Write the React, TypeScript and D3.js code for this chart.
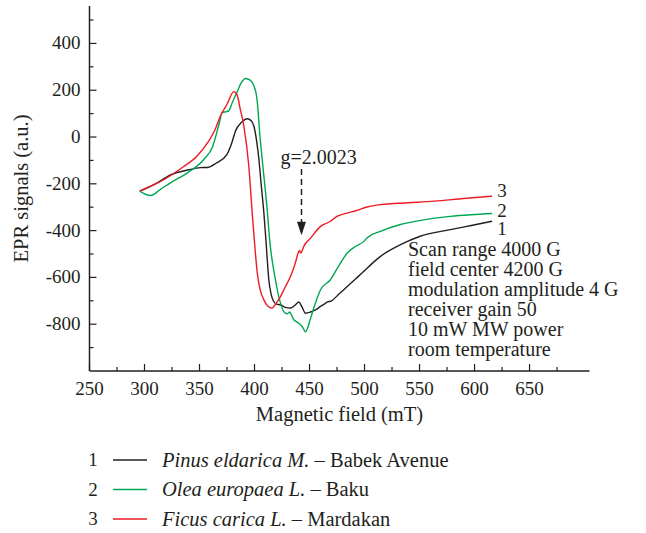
import React from "react";
import * as d3 from "d3";

const W = 646;
const H = 533;

const xTicks = [250, 300, 350, 400, 450, 500, 550, 600, 650];
const yTicks = [-800, -600, -400, -200, 0, 200, 400];
const xMinor = [275, 325, 375, 425, 475, 525, 575, 625, 675];
const yMinor = [-900, -700, -500, -300, -100, 100, 300, 500];

const seriesNames = ["1", "2", "3"];
const seriesColors = ["#231f20", "#00a651", "#ed1c24"];
const legendSpecies = ["Pinus eldarica M.", "Olea europaea L.", "Ficus carica L."];
const legendPlaces = ["Babek Avenue", "Baku", "Mardakan"];

const pinus: [number, number][] = [
  [295.7, -231], [310, -200], [323.6, -162], [340, -140], [351, -131], [357, -130],
  [365, -112], [375, -74], [379, -30], [382.7, 26], [388, 62], [393.4, 78], [397, 70],
  [399.4, 47], [402, -20], [404, -96], [406, -200], [408.5, -324], [410.5, -450],
  [413, -610], [415, -670], [417.5, -703], [420, -714], [423.6, -717], [428, -728],
  [432.7, -731], [437, -718], [440.3, -705], [443, -725], [446.4, -753], [451, -748],
  [455.5, -739], [460, -724], [464, -712], [466, -706], [470, -700], [477, -670],
  [484.3, -639], [492, -606], [499.4, -574], [507, -540], [514.5, -510], [532.7, -460],
  [550, -425], [578, -396], [597, -378], [616, -360],
];

const olea: [number, number][] = [
  [295.7, -231], [305.5, -250], [315, -222], [323.6, -196], [340, -150], [353.9, -96],
  [362, -40], [368, 60], [370.6, 104], [374, 108], [376.6, 112], [380, 150], [384, 190],
  [388, 232], [391.8, 250], [396, 243], [399.4, 219], [401.5, 185], [402.5, 150],
  [405, 0], [407, -96], [411.5, -310], [414, -450], [419, -610], [423.6, -710],
  [428, -753], [430, -755], [432, -748], [433.5, -760], [435.7, -781], [440, -795],
  [443.3, -810], [446.4, -832], [451, -774], [455, -715], [460, -653], [469, -610],
  [476, -555], [484.3, -496], [491, -470], [499.4, -446], [502.4, -430], [514.5, -403],
  [532.7, -374], [555, -353], [578, -339], [597, -332], [616, -327],
];

const ficus: [number, number][] = [
  [295.7, -231], [308, -205], [320.6, -174], [335, -128], [347.9, -81], [358, -20],
  [364, 30], [369, 90], [375, 140], [381.2, 194], [384.3, 178], [387, 120], [390.3, 47],
  [394.8, -124], [397.9, -324], [400, -450], [402.5, -581], [405, -650], [408.5, -696],
  [412, -722], [416, -731], [419, -715], [423.6, -682], [428, -640], [432.7, -596],
  [437, -540], [440, -492], [441, -485], [442, -496], [445, -465], [451, -432],
  [460, -382], [469, -360], [475, -339], [484.3, -325], [492, -315], [502.4, -299],
  [514.5, -289], [540, -281], [563, -274], [590, -263], [616, -253],
];

const seriesData = [pinus, olea, ficus];
const labelOffsets = [10, -1, -3];

const infoLines = [
  "Scan range 4000 G",
  "field center 4200 G",
  "modulation amplitude 4 G",
  "receiver gain 50",
  "10 mW MW power",
  "room temperature",
];

const gLabel = "g=2.0023";
const gField = 442.7;

const FONT = '"Liberation Serif", "DejaVu Serif", serif';

export default function App() {
  const x = d3.scaleLinear().domain([250, 704.5]).range([89.5, 589.5]);
  const y = d3.scaleLinear().domain([-1000, 560]).range([371, 6]);
  const line = d3
    .line<[number, number]>()
    .x((d) => x(d[0]))
    .y((d) => y(d[1]))
    .curve(d3.curveMonotoneX);

  const txt = "#231f20";
  const x0 = x(250);
  const y0 = y(-1000);
  const ts = { fontFamily: FONT };

  return (
    <svg
      width={W}
      height={H}
      style={{ position: "absolute", left: 0, top: 0, background: "#fff", fontFamily: FONT }}
    >
      {/* axes */}
      <line x1={x0} x2={x0} y1={y(560)} y2={y0} stroke={txt} strokeWidth={1.5} />
      <line x1={x0} x2={x(704.5)} y1={y0} y2={y0} stroke={txt} strokeWidth={1.5} />
      {xTicks.map((t) => (
        <g key={"xt" + t}>
          <line x1={x(t)} x2={x(t)} y1={y0} y2={y0 - 7} stroke={txt} strokeWidth={1.2} />
          <text style={ts} x={x(t)} y={y0 + 24} textAnchor="middle" fontSize={19} fill={txt}>
            {t}
          </text>
        </g>
      ))}
      {xMinor.map((t) => (
        <line key={"xm" + t} x1={x(t)} x2={x(t)} y1={y0} y2={y0 - 4} stroke={txt} strokeWidth={1.2} />
      ))}
      {yTicks.map((t) => (
        <g key={"yt" + t}>
          <line x1={x0} x2={x0 + 7} y1={y(t)} y2={y(t)} stroke={txt} strokeWidth={1.2} />
          <text style={ts} x={x0 - 9} y={y(t) + 6} textAnchor="end" fontSize={19} fill={txt}>
            {t}
          </text>
        </g>
      ))}
      {yMinor.map((t) => (
        <line key={"ym" + t} x1={x0} x2={x0 + 4} y1={y(t)} y2={y(t)} stroke={txt} strokeWidth={1.2} />
      ))}
      <text style={ts} x={(x0 + x(704.5)) / 2} y={421} textAnchor="middle" fontSize={20.5} fill={txt}>
        Magnetic field (mT)
      </text>
      <text
        style={ts}
        transform={`translate(28, ${y(-220)}) rotate(-90)`}
        textAnchor="middle"
        fontSize={20.5}
        fill={txt}
      >
        EPR signals (a.u.)
      </text>

      {/* curves */}
      {seriesData.map((d, i) => (
        <path key={"s" + i} d={line(d) || ""} fill="none" stroke={seriesColors[i]} strokeWidth={1.4} />
      ))}

      {/* curve labels */}
      {seriesData.map((d, i) => {
        const last = d[d.length - 1];
        return (
          <text style={ts} key={"lab" + i} x={x(last[0]) + 5} y={y(last[1]) + 4 + labelOffsets[i]} fontSize={19} fill={txt}>
            {seriesNames[i]}
          </text>
        );
      })}

      {/* g annotation */}
      <text style={ts} x={x(gField) - 21} y={y(-115)} fontSize={20} fill={txt}>
        {gLabel}
      </text>
      <line
        x1={x(gField)}
        x2={x(gField)}
        y1={y(-137)}
        y2={y(-365)}
        stroke={txt}
        strokeWidth={1.5}
        strokeDasharray="6,4"
      />
      <path
        d={`M${x(gField) - 4.5},${y(-362)} L${x(gField) + 4.5},${y(-362)} L${x(gField)},${y(-420)} Z`}
        fill={txt}
      />

      {/* info block */}
      {infoLines.map((s, i) => (
        <text style={ts} key={"info" + i} x={408} y={256 + i * 20} fontSize={20} fill={txt}>
          {s}
        </text>
      ))}

      {/* legend */}
      {seriesNames.map((n, i) => (
        <g key={"leg" + i} transform={`translate(0, ${460 + i * 29.5})`}>
          <text style={ts} x={93} y={6} textAnchor="middle" fontSize={19} fill={txt}>
            {n}
          </text>
          <line x1={113} x2={147} y1={0} y2={0} stroke={seriesColors[i]} strokeWidth={1.4} />
          <text style={ts} x={162} y={6.5} fontSize={20.5} fill={txt}>
            <tspan fontStyle="italic">{legendSpecies[i]}</tspan>
            <tspan>{" – " + legendPlaces[i]}</tspan>
          </text>
        </g>
      ))}
    </svg>
  );
}
